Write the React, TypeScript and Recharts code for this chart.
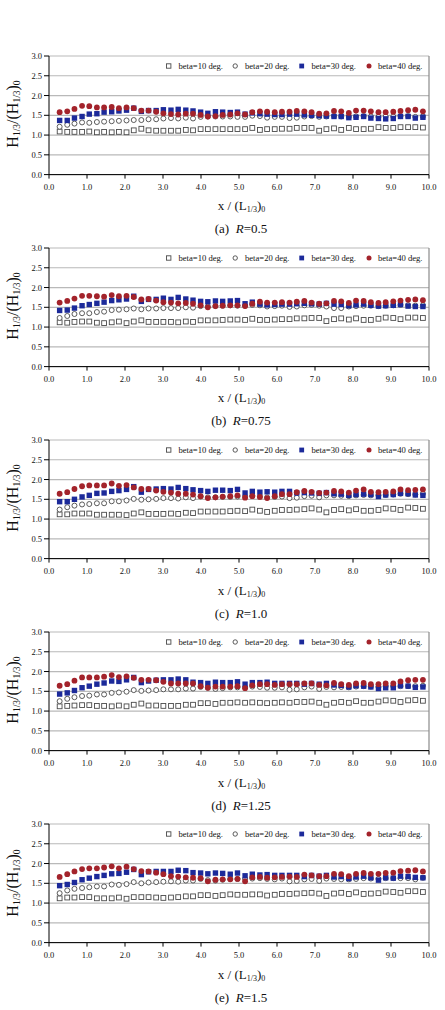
import React from "react";
import { ScatterChart, Scatter, XAxis, YAxis, CartesianGrid, ReferenceLine } from "recharts";

const X = [
  0.28, 0.48, 0.67, 0.87, 1.06, 1.26, 1.45, 1.65, 1.84, 2.04,
  2.23, 2.43, 2.62, 2.82, 3.01, 3.21, 3.40, 3.60, 3.79, 3.99,
  4.18, 4.38, 4.57, 4.77, 4.96, 5.16, 5.35, 5.55, 5.74, 5.94,
  6.13, 6.33, 6.52, 6.72, 6.91, 7.11, 7.30, 7.50, 7.69, 7.89,
  8.08, 8.28, 8.47, 8.67, 8.86, 9.06, 9.25, 9.45, 9.64, 9.84,
];

const xTicks = [0, 1, 2, 3, 4, 5, 6, 7, 8, 9, 10];
const yTicks = [0, 0.5, 1, 1.5, 2, 2.5, 3];
const seriesNames = ["beta=10 deg.", "beta=20 deg.", "beta=30 deg.", "beta=40 deg."];
const captionLetters = ["(a)", "(b)", "(c)", "(d)", "(e)"];
const rValues = ["0.5", "0.75", "1.0", "1.25", "1.5"];

// R = 0.5
const r05_b10 = [1.09,1.08,1.08,1.08,1.09,1.07,1.08,1.07,1.08,1.07,1.12,1.16,1.12,1.11,1.11,1.11,1.11,1.13,1.12,1.15,1.15,1.15,1.15,1.15,1.15,1.15,1.18,1.13,1.15,1.15,1.16,1.16,1.18,1.18,1.18,1.11,1.15,1.17,1.13,1.18,1.15,1.15,1.16,1.20,1.18,1.18,1.20,1.20,1.20,1.19];
const r05_b20 = [1.21,1.26,1.29,1.32,1.31,1.33,1.34,1.35,1.36,1.37,1.38,1.38,1.40,1.40,1.42,1.43,1.42,1.44,1.42,1.46,1.47,1.47,1.47,1.47,1.46,1.46,1.49,1.48,1.44,1.46,1.46,1.43,1.44,1.47,1.48,1.46,1.47,1.48,1.47,1.46,1.47,1.48,1.47,1.46,1.47,1.47,1.48,1.48,1.46,1.47];
const r05_b30 = [1.37,1.37,1.43,1.47,1.53,1.54,1.58,1.59,1.61,1.63,1.68,1.60,1.62,1.62,1.64,1.63,1.65,1.63,1.61,1.58,1.55,1.59,1.58,1.57,1.58,1.53,1.56,1.54,1.53,1.52,1.52,1.53,1.53,1.51,1.50,1.49,1.48,1.47,1.47,1.44,1.45,1.47,1.43,1.42,1.41,1.42,1.47,1.47,1.43,1.45];
const r05_b40 = [1.58,1.60,1.66,1.74,1.73,1.70,1.70,1.71,1.68,1.70,1.68,1.62,1.62,1.59,1.55,1.53,1.52,1.54,1.54,1.51,1.47,1.48,1.51,1.52,1.55,1.52,1.58,1.60,1.59,1.58,1.59,1.59,1.61,1.60,1.58,1.54,1.55,1.61,1.60,1.56,1.62,1.62,1.60,1.58,1.58,1.59,1.61,1.63,1.64,1.60];

// R = 0.75
const r075_b10 = [1.12,1.11,1.13,1.14,1.14,1.11,1.10,1.12,1.14,1.10,1.14,1.17,1.13,1.13,1.13,1.13,1.12,1.14,1.13,1.17,1.17,1.17,1.18,1.19,1.19,1.18,1.21,1.18,1.18,1.19,1.20,1.20,1.22,1.22,1.23,1.23,1.15,1.20,1.22,1.19,1.22,1.18,1.18,1.21,1.24,1.23,1.20,1.24,1.24,1.23];
const r075_b20 = [1.23,1.28,1.33,1.35,1.35,1.38,1.39,1.43,1.44,1.45,1.47,1.45,1.47,1.47,1.48,1.48,1.48,1.50,1.49,1.53,1.52,1.53,1.54,1.55,1.54,1.54,1.56,1.55,1.52,1.53,1.54,1.51,1.52,1.55,1.56,1.54,1.52,1.48,1.48,1.52,1.53,1.54,1.54,1.53,1.54,1.55,1.56,1.55,1.54,1.55];
const r075_b30 = [1.42,1.43,1.48,1.54,1.57,1.60,1.63,1.67,1.69,1.71,1.78,1.65,1.70,1.70,1.73,1.70,1.75,1.71,1.68,1.65,1.64,1.66,1.65,1.66,1.67,1.59,1.63,1.58,1.56,1.57,1.58,1.58,1.59,1.60,1.59,1.58,1.60,1.58,1.57,1.54,1.56,1.58,1.55,1.53,1.54,1.55,1.57,1.53,1.52,1.52];
const r075_b40 = [1.62,1.66,1.72,1.79,1.79,1.78,1.77,1.81,1.78,1.79,1.76,1.70,1.71,1.67,1.63,1.62,1.60,1.61,1.59,1.55,1.50,1.53,1.54,1.55,1.55,1.53,1.59,1.64,1.62,1.62,1.63,1.62,1.64,1.66,1.62,1.59,1.60,1.66,1.65,1.61,1.67,1.66,1.63,1.61,1.63,1.65,1.67,1.69,1.70,1.68];

// R = 1.0
const r10_b10 = [1.12,1.12,1.14,1.14,1.14,1.11,1.11,1.11,1.11,1.10,1.14,1.17,1.13,1.13,1.13,1.14,1.13,1.16,1.15,1.19,1.19,1.19,1.19,1.20,1.21,1.20,1.24,1.21,1.18,1.21,1.23,1.23,1.24,1.25,1.27,1.24,1.17,1.23,1.25,1.22,1.25,1.21,1.21,1.23,1.27,1.26,1.23,1.29,1.28,1.26];
const r10_b20 = [1.24,1.30,1.34,1.37,1.38,1.40,1.40,1.45,1.45,1.47,1.51,1.49,1.50,1.51,1.53,1.53,1.52,1.55,1.53,1.57,1.55,1.55,1.56,1.56,1.57,1.57,1.59,1.57,1.55,1.56,1.57,1.53,1.54,1.58,1.59,1.55,1.60,1.60,1.59,1.58,1.60,1.61,1.60,1.60,1.61,1.62,1.64,1.63,1.62,1.64];
const r10_b30 = [1.44,1.44,1.50,1.56,1.60,1.65,1.66,1.70,1.72,1.75,1.82,1.68,1.75,1.76,1.77,1.76,1.80,1.77,1.74,1.72,1.70,1.73,1.73,1.72,1.75,1.66,1.70,1.68,1.69,1.68,1.70,1.70,1.66,1.67,1.66,1.65,1.67,1.64,1.63,1.60,1.62,1.63,1.62,1.57,1.61,1.62,1.65,1.64,1.61,1.60];
const r10_b40 = [1.64,1.68,1.76,1.83,1.85,1.85,1.85,1.90,1.84,1.86,1.80,1.76,1.76,1.72,1.69,1.67,1.64,1.64,1.62,1.58,1.53,1.55,1.57,1.58,1.60,1.54,1.58,1.56,1.53,1.58,1.63,1.63,1.68,1.71,1.69,1.66,1.67,1.71,1.70,1.67,1.72,1.75,1.69,1.68,1.69,1.70,1.75,1.73,1.74,1.75];

// R = 1.25
const r125_b10 = [1.12,1.13,1.14,1.15,1.15,1.13,1.13,1.12,1.14,1.12,1.16,1.19,1.14,1.14,1.13,1.13,1.13,1.16,1.16,1.20,1.20,1.18,1.21,1.21,1.22,1.21,1.22,1.21,1.20,1.21,1.22,1.21,1.23,1.23,1.24,1.21,1.16,1.21,1.23,1.21,1.25,1.21,1.21,1.24,1.27,1.26,1.23,1.27,1.28,1.26];
const r125_b20 = [1.25,1.31,1.35,1.38,1.39,1.42,1.42,1.46,1.47,1.49,1.53,1.51,1.52,1.53,1.55,1.55,1.55,1.57,1.57,1.61,1.59,1.56,1.58,1.60,1.60,1.60,1.62,1.61,1.59,1.59,1.60,1.54,1.55,1.60,1.62,1.56,1.61,1.60,1.61,1.60,1.62,1.63,1.62,1.61,1.63,1.63,1.63,1.63,1.63,1.64];
const r125_b30 = [1.43,1.46,1.52,1.59,1.63,1.68,1.71,1.76,1.75,1.79,1.85,1.72,1.76,1.78,1.79,1.79,1.81,1.79,1.73,1.72,1.70,1.73,1.72,1.72,1.74,1.68,1.72,1.72,1.73,1.70,1.70,1.70,1.70,1.68,1.70,1.68,1.70,1.66,1.65,1.61,1.64,1.63,1.61,1.57,1.59,1.59,1.64,1.63,1.60,1.61];
const r125_b40 = [1.64,1.68,1.77,1.85,1.85,1.85,1.87,1.91,1.86,1.88,1.84,1.79,1.79,1.78,1.74,1.70,1.70,1.70,1.70,1.63,1.59,1.62,1.62,1.62,1.63,1.58,1.65,1.68,1.68,1.66,1.68,1.68,1.68,1.70,1.70,1.66,1.65,1.71,1.68,1.66,1.70,1.71,1.68,1.68,1.70,1.70,1.75,1.78,1.79,1.79];

// R = 1.5
const r15_b10 = [1.12,1.14,1.14,1.15,1.15,1.12,1.12,1.12,1.14,1.11,1.15,1.15,1.15,1.14,1.13,1.14,1.15,1.17,1.17,1.20,1.20,1.18,1.20,1.22,1.21,1.21,1.22,1.22,1.19,1.21,1.23,1.23,1.24,1.25,1.26,1.24,1.18,1.24,1.26,1.23,1.27,1.23,1.24,1.25,1.29,1.28,1.26,1.30,1.30,1.28];
const r15_b20 = [1.25,1.32,1.36,1.38,1.40,1.42,1.42,1.47,1.46,1.48,1.53,1.50,1.52,1.53,1.54,1.55,1.54,1.57,1.57,1.61,1.58,1.57,1.59,1.61,1.61,1.61,1.62,1.63,1.61,1.60,1.62,1.55,1.56,1.60,1.61,1.56,1.62,1.61,1.60,1.60,1.61,1.63,1.62,1.61,1.63,1.63,1.63,1.63,1.60,1.64];
const r15_b30 = [1.44,1.47,1.52,1.59,1.63,1.67,1.70,1.74,1.75,1.78,1.85,1.72,1.79,1.80,1.80,1.80,1.83,1.82,1.77,1.76,1.74,1.76,1.75,1.73,1.76,1.69,1.73,1.71,1.72,1.70,1.70,1.70,1.70,1.67,1.70,1.68,1.70,1.66,1.67,1.62,1.66,1.68,1.64,1.58,1.64,1.63,1.68,1.67,1.65,1.64];
const r15_b40 = [1.66,1.73,1.80,1.86,1.88,1.88,1.90,1.93,1.88,1.92,1.86,1.81,1.80,1.77,1.73,1.68,1.67,1.65,1.64,1.63,1.55,1.59,1.60,1.60,1.61,1.55,1.65,1.66,1.64,1.65,1.66,1.67,1.66,1.72,1.70,1.68,1.68,1.74,1.73,1.68,1.74,1.76,1.74,1.74,1.76,1.77,1.81,1.82,1.83,1.80];

const panelSeries = [
  [r05_b10, r05_b20, r05_b30, r05_b40],
  [r075_b10, r075_b20, r075_b30, r075_b40],
  [r10_b10, r10_b20, r10_b30, r10_b40],
  [r125_b10, r125_b20, r125_b30, r125_b40],
  [r15_b10, r15_b20, r15_b30, r15_b40],
];

const FONT = "'Liberation Serif', 'DejaVu Serif', serif";
const BLUE = "#1c2a9a";
const RED = "#a3232b";
const OPEN = "#4a4a4a";

const toPts = (ys: number[]) => ys.map((y, i) => ({ x: X[i], y }));

const OpenSquare = (p: any) => (
  <rect x={p.cx - 2.4} y={p.cy - 2.4} width={4.8} height={4.8} fill="#fff" stroke={OPEN} strokeWidth={0.9} />
);
const OpenCircle = (p: any) => (
  <circle cx={p.cx} cy={p.cy} r={2.5} fill="#fff" stroke={OPEN} strokeWidth={0.9} />
);
const BlueSquare = (p: any) => (
  <rect x={p.cx - 2.7} y={p.cy - 2.7} width={5.4} height={5.4} fill={BLUE} />
);
const RedCircle = (p: any) => <circle cx={p.cx} cy={p.cy} r={2.9} fill={RED} />;

const shapes = [OpenSquare, OpenCircle, BlueSquare, RedCircle];

const PLOT_TOP = 10;
const PLOT_H = 118.6;
const PANEL_TOP0 = 45.7;
const PANEL_STEP = 192.15;

const subStyle = (fs: number, va: string) => ({ fontSize: fs, verticalAlign: va, lineHeight: 0 });

const Legend = () => {
  const mx = [168.7, 235.2, 301.7, 369.0];
  const tx = [178.5, 245, 311.5, 378];
  return (
    <svg width={445} height={14} style={{ position: "absolute", left: 0, top: PLOT_TOP + 3 }}>
      <rect x={mx[0] - 2.2} y={4.8} width={4.4} height={4.4} fill="#fff" stroke={OPEN} strokeWidth={0.9} />
      <circle cx={mx[1]} cy={7} r={2.2} fill="#fff" stroke={OPEN} strokeWidth={0.9} />
      <rect x={mx[2] - 2.4} y={4.6} width={4.8} height={4.8} fill={BLUE} />
      <circle cx={mx[3]} cy={7} r={2.5} fill={RED} />
      {seriesNames.map((n, i) => (
        <text key={n} x={tx[i]} y={10} fontFamily={FONT} fontSize={8.6} fill="#111">
          {n}
        </text>
      ))}
    </svg>
  );
};

const Panel = ({ k }: { k: number }) => {
  const series = panelSeries[k];
  const bottom = PLOT_TOP + PLOT_H;
  return (
    <div style={{ position: "absolute", left: 0, top: PANEL_TOP0 + k * PANEL_STEP, width: 445, height: 192 }}>
      <ScatterChart width={445} height={149} margin={{ top: PLOT_TOP, right: 16, bottom: 0, left: 9 }}>
        <CartesianGrid vertical={false} horizontalValues={yTicks} stroke="#b9b9b9" strokeWidth={1.2} />
        <XAxis
          type="number"
          dataKey="x"
          domain={[0, 10]}
          ticks={xTicks}
          interval={0}
          height={20.4}
          tickSize={4}
          tickMargin={5}
          tickFormatter={(v: number) => v.toFixed(1)}
          tick={{ fontFamily: FONT, fontSize: 8.5, fill: "#111" }}
          axisLine={{ stroke: "#000", strokeWidth: 1 }}
          tickLine={{ stroke: "#000", strokeWidth: 1 }}
          allowDataOverflow
        />
        <YAxis
          type="number"
          dataKey="y"
          domain={[0, 3]}
          ticks={yTicks}
          interval={0}
          width={40}
          tickSize={5}
          tickMargin={2}
          tickFormatter={(v: number) => v.toFixed(1)}
          tick={{ fontFamily: FONT, fontSize: 8.5, fill: "#111" }}
          axisLine={{ stroke: "#000", strokeWidth: 1 }}
          tickLine={{ stroke: "#000", strokeWidth: 1 }}
          allowDataOverflow
        />
        <ReferenceLine x={10} stroke="#8a8a8a" strokeWidth={1.2} ifOverflow="visible" />
        {series.map((ys, i) => (
          <Scatter
            key={i}
            name={seriesNames[i]}
            data={toPts(ys)}
            shape={shapes[i]}
            isAnimationActive={false}
          />
        ))}
      </ScatterChart>
      <Legend />
      <div
        style={{
          position: "absolute",
          left: 13,
          top: PLOT_TOP + PLOT_H / 2 - 1,
          transform: "translate(-50%, -50%) rotate(-90deg)",
          whiteSpace: "nowrap",
          fontFamily: FONT,
          fontSize: 16,
          lineHeight: "16px",
          color: "#111",
        }}
      >
        H<sub style={subStyle(9.5, "-2px")}>1/3</sub>/(H<sub style={subStyle(9.5, "-2px")}>1/3</sub>)
        <sub style={subStyle(9.5, "-2px")}>0</sub>
      </div>
      <div
        style={{
          position: "absolute",
          left: 241.5,
          top: bottom + 31,
          transform: "translate(-50%, -50%)",
          whiteSpace: "nowrap",
          fontFamily: FONT,
          fontSize: 13,
          lineHeight: "13px",
          color: "#111",
        }}
      >
        x / (L<sub style={subStyle(8, "-2px")}>1/3</sub>)<sub style={subStyle(8, "-2px")}>0</sub>
      </div>
      <div
        style={{
          position: "absolute",
          left: 241,
          top: bottom + 54,
          transform: "translate(-50%, -50%)",
          whiteSpace: "pre",
          fontFamily: FONT,
          fontSize: 13,
          lineHeight: "13px",
          color: "#111",
        }}
      >
        {captionLetters[k] + "  "}
        <i>R</i>
        {"=" + rValues[k]}
      </div>
    </div>
  );
};

export default function App() {
  return (
    <div style={{ position: "absolute", left: 0, top: 0, width: 445, height: 1010, background: "#fff" }}>
      {[0, 1, 2, 3, 4].map((k) => (
        <Panel key={k} k={k} />
      ))}
    </div>
  );
}
